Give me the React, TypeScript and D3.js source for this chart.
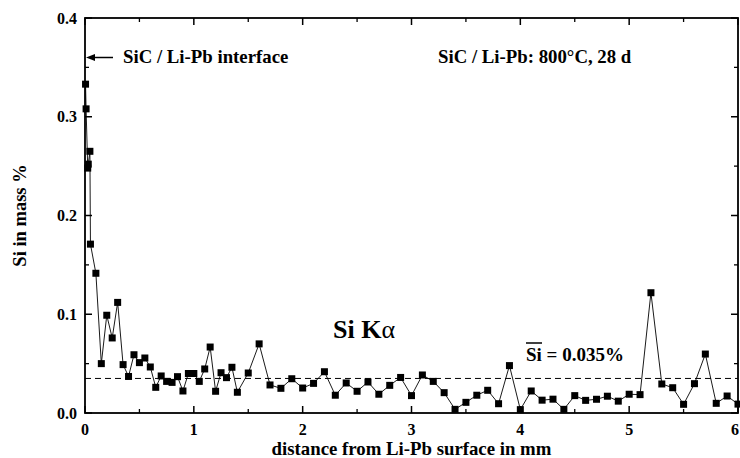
import * as d3 from "d3";

// distance from Li-Pb surface (mm) and Si content (mass %)
const distance = [
  0.005, 0.01, 0.025, 0.03, 0.045, 0.05, 0.1, 0.15, 0.2, 0.25, 0.3, 0.35, 0.4, 0.45, 0.5,
  0.55, 0.6, 0.65, 0.7, 0.75, 0.8, 0.85, 0.9, 0.95, 1.0, 1.05, 1.1, 1.15, 1.2, 1.25,
  1.3, 1.35, 1.4, 1.5, 1.6, 1.7, 1.8, 1.9, 2.0, 2.1, 2.2, 2.3, 2.4, 2.5, 2.6, 2.7,
  2.8, 2.9, 3.0, 3.1, 3.2, 3.3, 3.4, 3.5, 3.6, 3.7, 3.8, 3.9, 4.0, 4.1, 4.2, 4.3,
  4.4, 4.5, 4.6, 4.7, 4.8, 4.9, 5.0, 5.1, 5.2, 5.3, 5.4, 5.5, 5.6, 5.7, 5.8, 5.9, 6.0,
];
const siMass = [
  0.333, 0.308, 0.248, 0.252, 0.265, 0.171, 0.1415, 0.05, 0.099, 0.076, 0.112, 0.049, 0.037, 0.059, 0.051,
  0.0557, 0.0466, 0.026, 0.0375, 0.032, 0.031, 0.0368, 0.0223, 0.04, 0.04, 0.032, 0.0446, 0.0668, 0.022, 0.0408,
  0.0358, 0.0463, 0.021, 0.0405, 0.07, 0.0284, 0.025, 0.0347, 0.0253, 0.03, 0.0418, 0.018, 0.0304, 0.022, 0.0314, 0.019,
  0.028, 0.036, 0.0176, 0.0385, 0.032, 0.0206, 0.0037, 0.0108, 0.018, 0.023, 0.0094, 0.048, 0.0034, 0.0223, 0.013, 0.014,
  0.0037, 0.0176, 0.0128, 0.0139, 0.017, 0.012, 0.019, 0.0186, 0.1218, 0.0294, 0.0256, 0.0088, 0.0297, 0.0597, 0.0098, 0.0172, 0.009,
];
const meanSi = 0.035;

const xMajor = [0, 1, 2, 3, 4, 5, 6];
const xMinor = [0.5, 1.5, 2.5, 3.5, 4.5, 5.5];
const yMajor = [0, 0.1, 0.2, 0.3, 0.4];
const yMinor = [0.05, 0.15, 0.25, 0.35];

export default function App() {
  const width = 740;
  const height = 458;
  const left = 85;
  const right = 738;
  const top = 18;
  const bottom = 413;
  const font = '"Liberation Serif", "Times New Roman", "DejaVu Serif", serif';

  const x = d3.scaleLinear().domain([0, 6]).range([left, right]);
  const y = d3.scaleLinear().domain([0, 0.4]).range([bottom, top]);

  const points = distance.map((d, i) => ({ d, v: siMass[i] }));
  const line = d3
    .line<{ d: number; v: number }>()
    .x((p) => x(p.d))
    .y((p) => y(p.v));

  const majorLen = 7;
  const minorLen = 4;

  return (
    <svg
      width={width}
      height={height}
      style={{
        position: "absolute",
        left: 0,
        top: 0,
        background: "#fff",
        fontFamily: font,
        fontWeight: "bold",
      }}
    >
      {/* mean line */}
      <line
        x1={left}
        x2={right}
        y1={y(meanSi)}
        y2={y(meanSi)}
        stroke="#000"
        strokeWidth={1}
        strokeDasharray="6 4"
      />

      {/* data */}
      <path d={line(points) ?? ""} fill="none" stroke="#000" strokeWidth={0.9} />
      {points.map((p, i) => (
        <rect key={i} x={x(p.d) - 3.5} y={y(p.v) - 3.5} width={7} height={7} fill="#000" />
      ))}

      {/* frame */}
      <rect
        x={left}
        y={top}
        width={right - left}
        height={bottom - top}
        fill="none"
        stroke="#000"
        strokeWidth={1.8}
      />

      {/* x ticks, bottom and top */}
      {xMajor.map((t) => (
        <g key={"xM" + t}>
          <line x1={x(t)} x2={x(t)} y1={bottom} y2={bottom - majorLen} stroke="#000" strokeWidth={1.5} />
          <line x1={x(t)} x2={x(t)} y1={top} y2={top + majorLen} stroke="#000" strokeWidth={1.5} />
          <text x={t === 6 ? x(t) - 3 : x(t)} y={435} textAnchor="middle" fontSize={16}>
            {t}
          </text>
        </g>
      ))}
      {xMinor.map((t) => (
        <g key={"xm" + t}>
          <line x1={x(t)} x2={x(t)} y1={bottom} y2={bottom - minorLen} stroke="#000" strokeWidth={1.3} />
          <line x1={x(t)} x2={x(t)} y1={top} y2={top + minorLen} stroke="#000" strokeWidth={1.3} />
        </g>
      ))}

      {/* y ticks, left and right */}
      {yMajor.map((t) => (
        <g key={"yM" + t}>
          <line x1={left} x2={left + majorLen} y1={y(t)} y2={y(t)} stroke="#000" strokeWidth={1.5} />
          <line x1={right} x2={right - majorLen} y1={y(t)} y2={y(t)} stroke="#000" strokeWidth={1.5} />
          <text x={77} y={y(t) + 5.5} textAnchor="end" fontSize={16}>
            {t.toFixed(1)}
          </text>
        </g>
      ))}
      {yMinor.map((t) => (
        <g key={"ym" + t}>
          <line x1={left} x2={left + minorLen} y1={y(t)} y2={y(t)} stroke="#000" strokeWidth={1.3} />
          <line x1={right} x2={right - minorLen} y1={y(t)} y2={y(t)} stroke="#000" strokeWidth={1.3} />
        </g>
      ))}

      {/* axis titles */}
      <text x={(left + right) / 2} y={455} textAnchor="middle" fontSize={18.8}>
        distance from Li-Pb surface in mm
      </text>
      <text
        transform={`translate(26, ${(top + bottom) / 2}) rotate(-90)`}
        textAnchor="middle"
        fontSize={18.5}
      >
        Si in mass %
      </text>

      {/* annotations */}
      <line x1={113} x2={93} y1={y(0.36)} y2={y(0.36)} stroke="#000" strokeWidth={1.5} />
      <path
        d={`M${left + 1},${y(0.36)} L${95},${y(0.36) - 3.5} L${95},${y(0.36) + 3.5} Z`}
        fill="#000"
      />
      <text x={123} y={63} fontSize={18.8}>
        SiC / Li-Pb interface
      </text>
      <text x={438} y={63} fontSize={18.8}>
        SiC / Li-Pb: 800°C, 28 d
      </text>
      <text x={333} y={338} fontSize={26}>
        Si K<tspan fontWeight="normal">α</tspan>
      </text>
      <text x={526} y={361} fontSize={19}>
        Si = 0.035%
      </text>
      <line x1={526} x2={542} y1={343} y2={343} stroke="#000" strokeWidth={1.5} />
    </svg>
  );
}
